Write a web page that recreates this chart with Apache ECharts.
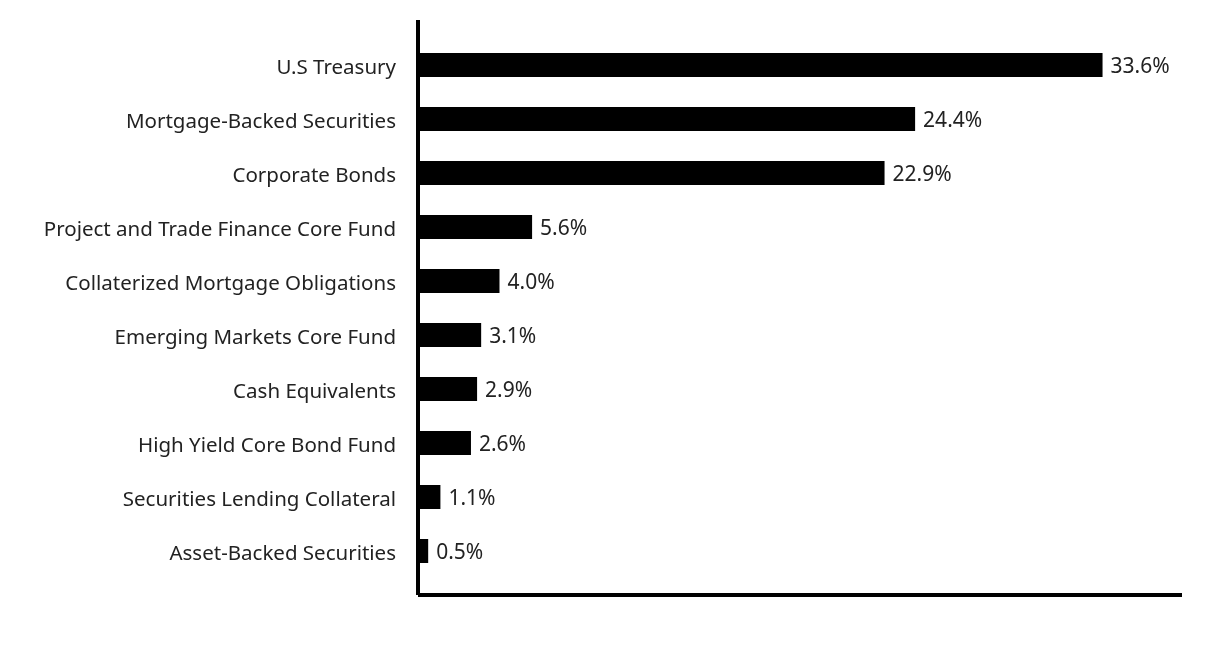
<!DOCTYPE html>
<html>
<head>
<meta charset="utf-8">
<script src="https://cdn.jsdelivr.net/npm/echarts@6/dist/echarts.min.js"></script>
<style>
  html, body { margin: 0; padding: 0; background: #fff; }
  #main { width: 1212px; height: 660px; }
</style>
</head>
<body>
<div id="main"></div>
<script>
var categories = [
    'U.S Treasury',
    'Mortgage-Backed Securities',
    'Corporate Bonds',
    'Project and Trade Finance Core Fund',
    'Collaterized Mortgage Obligations',
    'Emerging Markets Core Fund',
    'Cash Equivalents',
    'High Yield Core Bond Fund',
    'Securities Lending Collateral',
    'Asset-Backed Securities'
];
var values = [33.6, 24.4, 22.9, 5.6, 4.0, 3.1, 2.9, 2.6, 1.1, 0.5];

var myChart = echarts.init(document.getElementById('main'));

var font = 'Noto Sans';

option = {
    animation: false,
    grid: [
        // bars
        {left: 418, top: 38, width: 764, height: 540},
        // frame (axis lines only)
        {left: 418, top: 20, width: 764, height: 575}
    ],
    xAxis: [
        {
            gridIndex: 0, type: 'value', min: 0, max: 37.5,
            show: false
        },
        {
            gridIndex: 1, type: 'value', min: 0, max: 1,
            axisLine: {show: true, lineStyle: {color: '#000', width: 4, cap: 'butt'}},
            axisTick: {show: false},
            axisLabel: {show: false},
            splitLine: {show: false}
        }
    ],
    yAxis: [
        {
            gridIndex: 0, type: 'category', data: categories, inverse: true,
            axisLine: {show: false},
            axisTick: {show: false},
            axisLabel: {
                margin: 22,
                color: '#222',
                fontFamily: font,
                fontSize: 20.5,
                formatter: function (v) {
                    return '{t|' + v + '}';
                },
                rich: {
                    t: {
                        color: '#222',
                        fontFamily: font,
                        fontSize: 20.5,
                        padding: [6, 0, 0, 0]
                    }
                }
            }
        },
        {
            gridIndex: 1, type: 'value', min: 0, max: 1,
            axisLine: {show: true, lineStyle: {color: '#000', width: 4, cap: 'butt'}},
            axisTick: {show: false},
            axisLabel: {show: false},
            splitLine: {show: false}
        }
    ],
    series: [
        {
            type: 'bar',
            xAxisIndex: 0,
            yAxisIndex: 0,
            data: values,
            barWidth: 24,
            itemStyle: {color: '#000'},
            label: {
                show: true,
                position: 'right',
                distance: 8,
                offset: [0, 2],
                color: '#222',
                fontFamily: font,
                fontSize: 21,
                formatter: function (p) {
                    return p.value.toFixed(1) + '%';
                }
            }
        }
    ]
};

myChart.setOption(option);
onresize = myChart.resize;
</script>
</body>
</html>
